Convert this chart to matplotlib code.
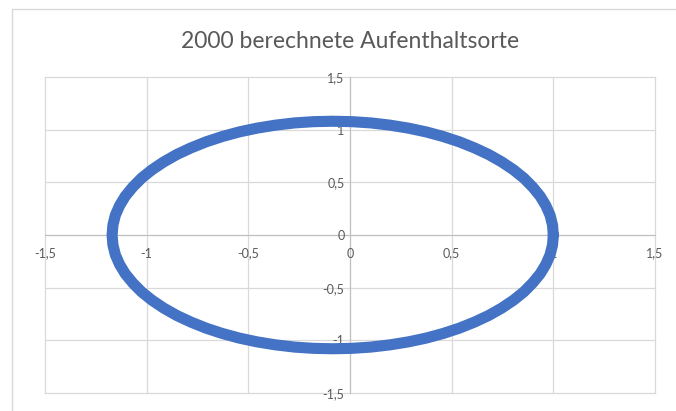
import matplotlib
matplotlib.use("Agg")
import matplotlib.pyplot as plt
from matplotlib.patches import Rectangle

orbit_x = [1.000, 0.996, 0.984, 0.963, 0.935, 0.898, 0.855, 0.804, 0.746,
           0.682, 0.612, 0.537, 0.458, 0.374, 0.286, 0.196, 0.103, 0.010,
           -0.085, -0.180, -0.273, -0.366, -0.456, -0.544, -0.628, -0.707,
           -0.782, -0.852, -0.916, -0.974, -1.025, -1.068, -1.105, -1.133,
           -1.154, -1.166, -1.170,
           -1.166, -1.154, -1.133, -1.105, -1.068, -1.025, -0.974, -0.916,
           -0.852, -0.782, -0.707, -0.628, -0.544, -0.456, -0.366, -0.273,
           -0.180, -0.085, 0.010, 0.103, 0.196, 0.286, 0.374, 0.458, 0.537,
           0.612, 0.682, 0.746, 0.804, 0.855, 0.898, 0.935, 0.963, 0.984,
           0.996, 1.000]
orbit_y = [0.000, 0.094, 0.188, 0.280, 0.369, 0.456, 0.540, 0.619, 0.694,
           0.764, 0.827, 0.885, 0.935, 0.979, 1.015, 1.043, 1.064, 1.076,
           1.080, 1.076, 1.064, 1.043, 1.015, 0.979, 0.935, 0.885, 0.827,
           0.764, 0.694, 0.619, 0.540, 0.456, 0.369, 0.280, 0.188, 0.094,
           0.000,
           -0.094, -0.188, -0.280, -0.369, -0.456, -0.540, -0.619, -0.694,
           -0.764, -0.827, -0.885, -0.935, -0.979, -1.015, -1.043, -1.064,
           -1.076, -1.080, -1.076, -1.064, -1.043, -1.015, -0.979, -0.935,
           -0.885, -0.827, -0.764, -0.694, -0.619, -0.540, -0.456, -0.369,
           -0.280, -0.188, -0.094, 0.000]

tick_values = [-1.5, -1, -0.5, 0, 0.5, 1, 1.5]
tick_labels = ["-1,5", "-1", "-0,5", "0", "0,5", "1", "1,5"]

title = "2000 berechnete Aufenthaltsorte"

W, H = 676, 411
fig = plt.figure(figsize=(W / 100, H / 100), dpi=100)
plt.rcParams["font.family"] = ["Lato", "DejaVu Sans"]

# chart frame (runs off the right and bottom edge)
fig.add_artist(Rectangle((12 / W, -0.1), 1.2, 1 - 9 / H + 0.1,
                         transform=fig.transFigure, fill=False,
                         edgecolor="#d9d9d9", linewidth=1.0))

ax = fig.add_axes([45 / W, 1 - 393 / H, 610 / W, 316 / H])
ax.set_xlim(-1.5, 1.5)
ax.set_ylim(-1.5, 1.5)

grid_color = "#d9d9d9"
axis_color = "#bfbfbf"
text_color = "#595959"

for v in tick_values:
    ax.axvline(v, color=grid_color, linewidth=0.9, zorder=0, clip_on=False)
    ax.axhline(v, color=grid_color, linewidth=0.9, zorder=0, clip_on=False)

for side in ("top", "right"):
    ax.spines[side].set_visible(False)
ax.spines["left"].set_position(("data", 0))
ax.spines["bottom"].set_position(("data", 0))
ax.spines["left"].set_color(axis_color)
ax.spines["bottom"].set_color(axis_color)
ax.spines["left"].set_zorder(0.5)
ax.spines["bottom"].set_zorder(0.5)

ax.set_xticks(tick_values)
ax.set_xticklabels(tick_labels)
ax.set_yticks(tick_values)
ax.set_yticklabels(tick_labels)
ax.tick_params(axis="both", length=0, labelsize=9, labelcolor=text_color)
ax.tick_params(axis="x", pad=9)
ax.tick_params(axis="y", pad=4)

ax.plot(orbit_x, orbit_y, color="#4472c4", linewidth=8,
        solid_joinstyle="round", solid_capstyle="round", zorder=3)

fig.text(350 / W, 1 - 42 / H, title, ha="center", va="center",
         fontsize=16.5, color=text_color)

fig.savefig("out.png", dpi=100)
